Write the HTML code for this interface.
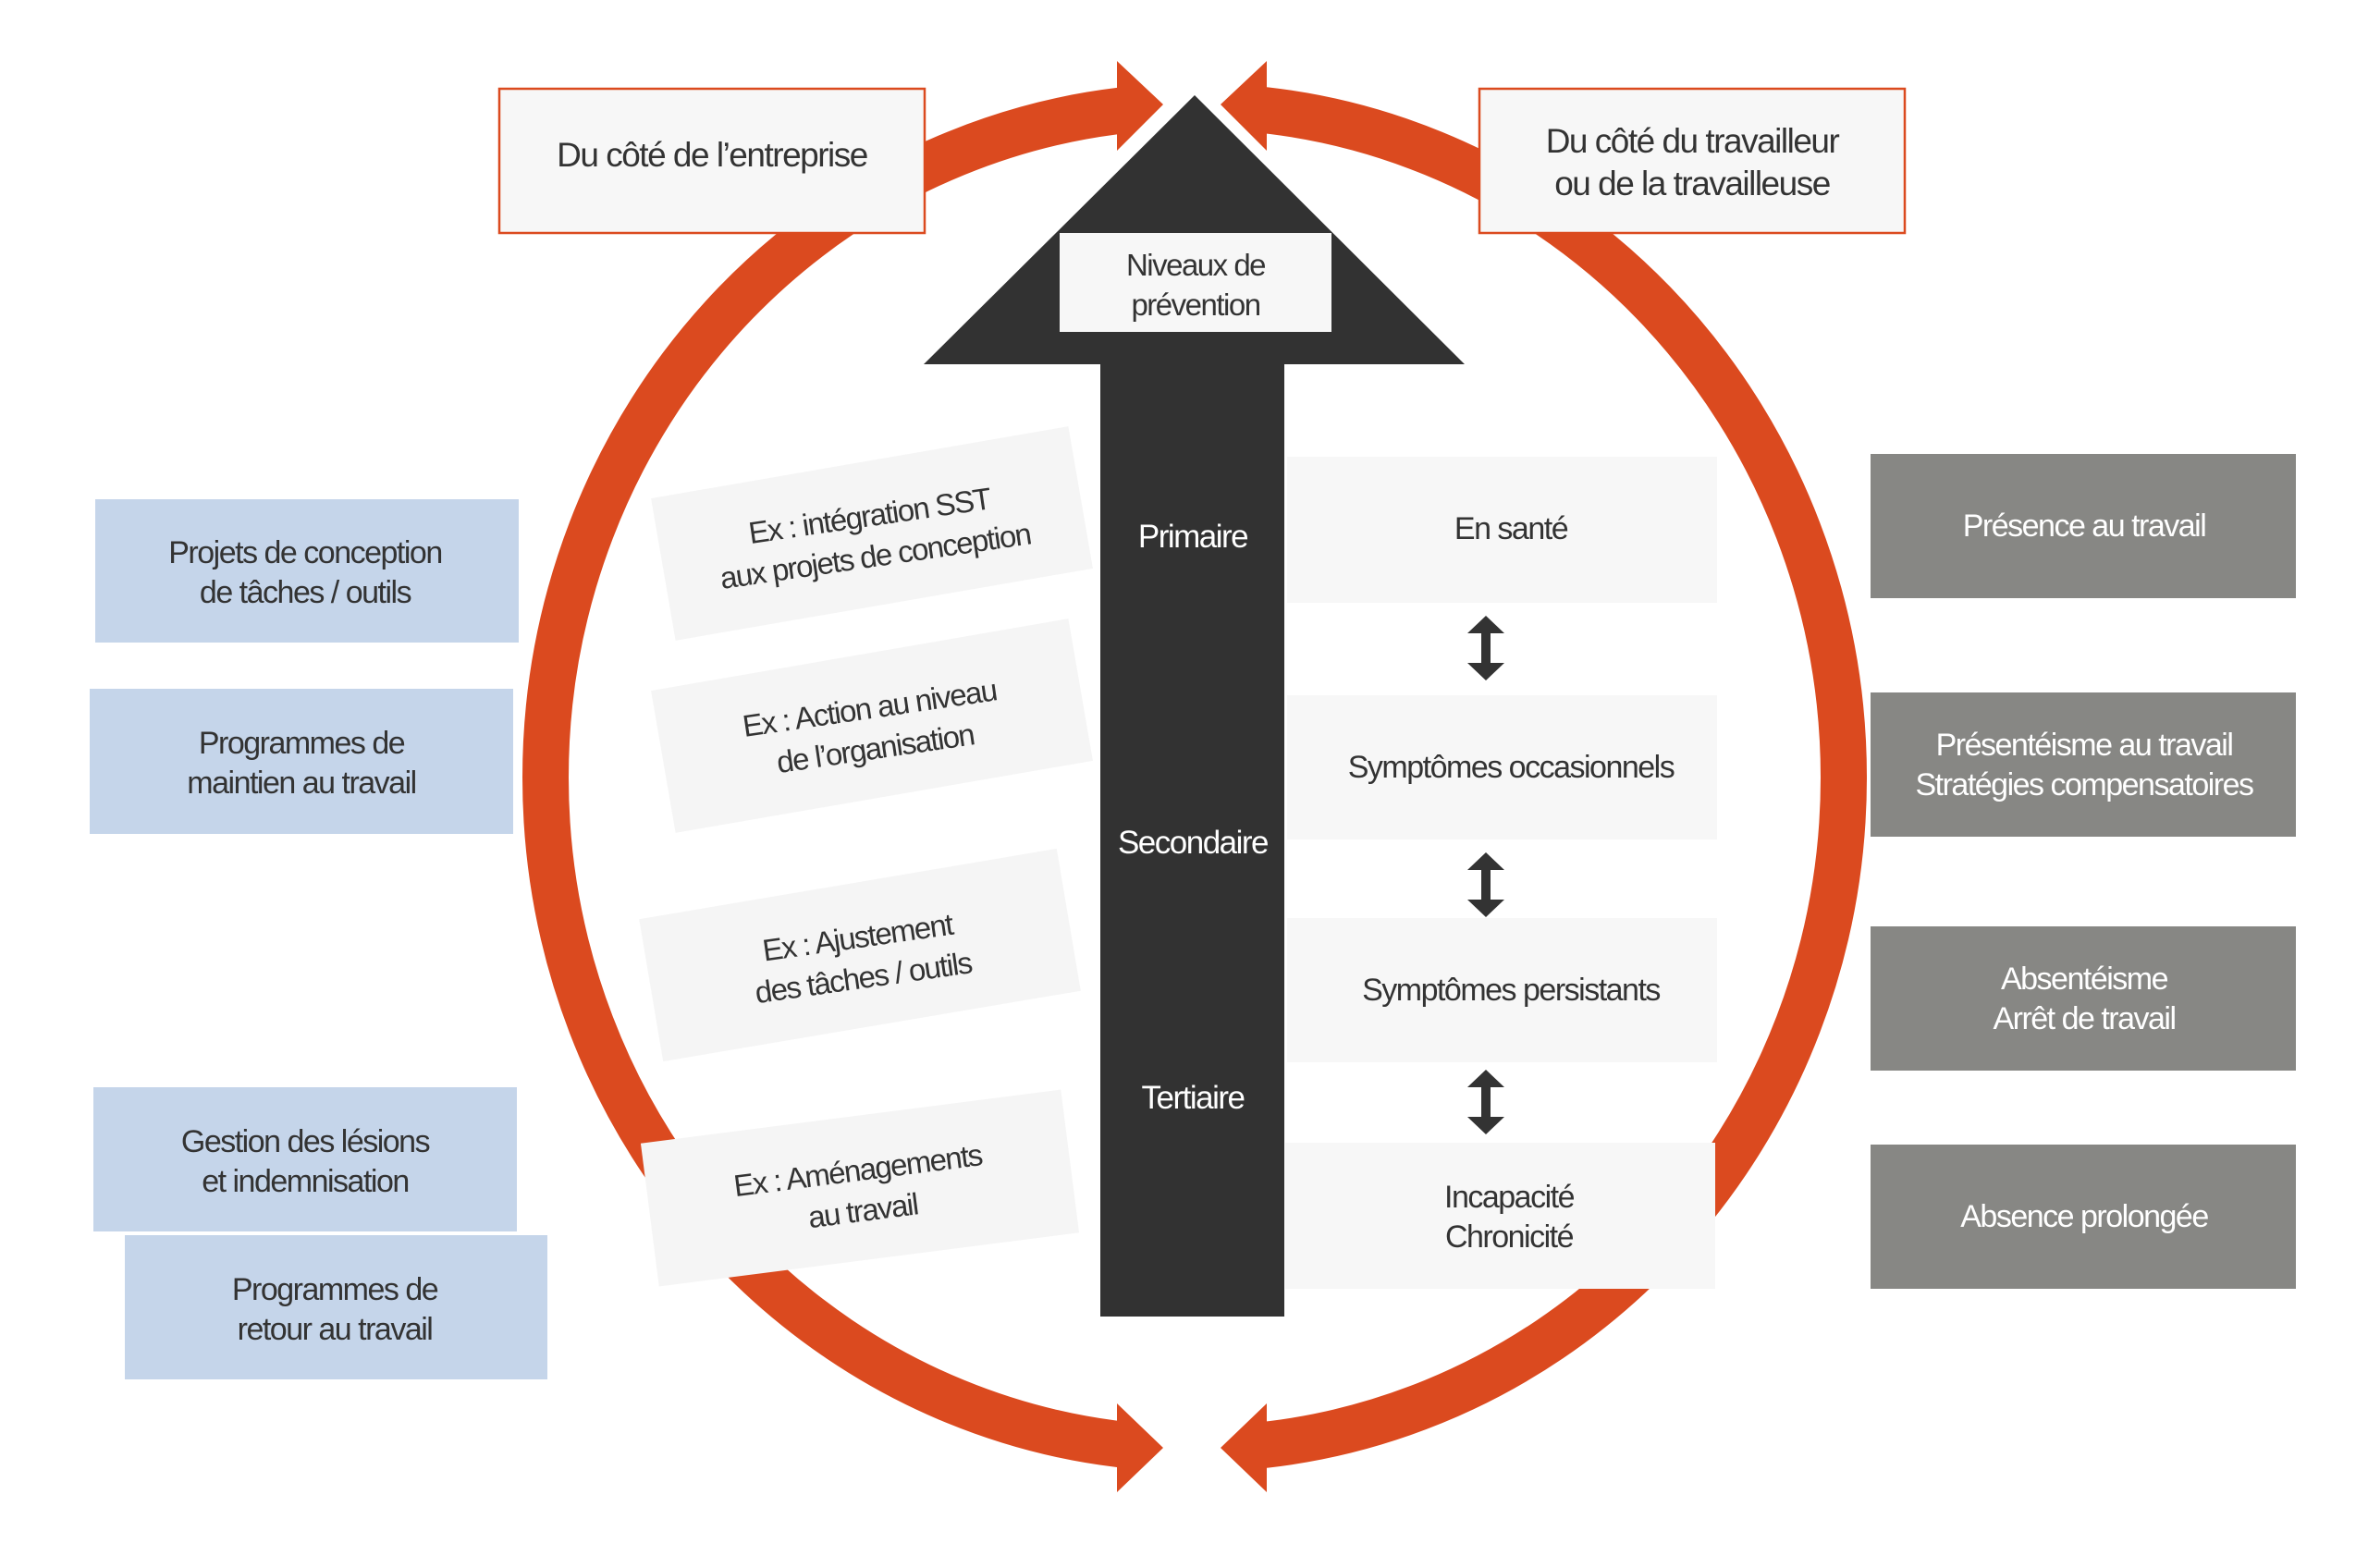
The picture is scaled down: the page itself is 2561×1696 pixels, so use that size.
<!DOCTYPE html>
<html><head><meta charset="utf-8"><style>
html,body{margin:0;padding:0;background:#fff;}
svg{display:block;}
text{font-family:"Liberation Sans",sans-serif;letter-spacing:-1.5px;}
</style></head><body>
<svg width="2561" height="1696" viewBox="0 0 2561 1696" xmlns="http://www.w3.org/2000/svg">
<!-- ring -->
<ellipse cx="1292" cy="841" rx="702" ry="726" fill="none" stroke="#db4a1f" stroke-width="50"/>
<rect x="1209" y="40" width="160" height="140" fill="#fff"/>
<rect x="1209" y="1500" width="160" height="140" fill="#fff"/>
<!-- arrowheads -->
<polygon points="1208,66 1258,113 1208,163" fill="#db4a1f"/>
<polygon points="1370,66 1320,113 1370,163" fill="#db4a1f"/>
<polygon points="1208,1518 1258,1566 1208,1614" fill="#db4a1f"/>
<polygon points="1370,1518 1320,1566 1370,1614" fill="#db4a1f"/>
<!-- black arrow -->
<polygon points="1292,103 1584,394 1389,394 1389,1424 1190,1424 1190,394 999,394" fill="#323232"/>
<rect x="1146" y="252" width="294" height="107" fill="#f7f7f7"/>
<text x="1293" y="298" font-size="33" fill="#333" text-anchor="middle">Niveaux de</text>
<text x="1293" y="341" font-size="33" fill="#333" text-anchor="middle">prévention</text>
<g font-size="35" fill="#fff" text-anchor="middle">
<text x="1290" y="592">Primaire</text>
<text x="1290" y="923">Secondaire</text>
<text x="1290" y="1199">Tertiaire</text>
</g>
<!-- top boxes -->
<rect x="540" y="96" width="460" height="156" fill="#f7f7f7" stroke="#db4a1f" stroke-width="2.5"/>
<text x="770" y="180" font-size="37" fill="#333" text-anchor="middle">Du côté de l’entreprise</text>
<rect x="1600" y="96" width="460" height="156" fill="#f7f7f7" stroke="#db4a1f" stroke-width="2.5"/>
<text x="1830" y="165" font-size="37" fill="#333" text-anchor="middle">Du côté du travailleur</text>
<text x="1830" y="211" font-size="37" fill="#333" text-anchor="middle">ou de la travailleuse</text>
<!-- rotated boxes -->
<g font-size="33" fill="#333" text-anchor="middle">
<g transform="translate(943,577) rotate(-9.8)">
<rect x="-229" y="-78" width="458" height="156" fill="#f5f5f5"/>
<text x="0" y="-8" transform="rotate(1.5)">Ex : intégration SST</text>
<text x="0" y="36" transform="rotate(1.5)">aux projets de conception</text>
</g>
<g transform="translate(943,785) rotate(-9.8)">
<rect x="-229" y="-78" width="458" height="156" fill="#f5f5f5"/>
<text x="0" y="-8" transform="rotate(1.5)">Ex : Action au niveau</text>
<text x="0" y="36" transform="rotate(1.5)">de l’organisation</text>
</g>
<g transform="translate(930,1033) rotate(-9.6)">
<rect x="-229" y="-78" width="458" height="156" fill="#f5f5f5"/>
<text x="0" y="-8" transform="rotate(1.5)">Ex : Ajustement</text>
<text x="0" y="36" transform="rotate(1.5)">des tâches / outils</text>
</g>
<g transform="translate(930,1285) rotate(-7.3)">
<rect x="-229" y="-78" width="458" height="156" fill="#f5f5f5"/>
<text x="0" y="-8">Ex : Aménagements</text>
<text x="0" y="36">au travail</text>
</g>
</g>
<!-- right state boxes -->
<g fill="#f7f7f7">
<rect x="1392" y="494" width="465" height="158"/>
<rect x="1392" y="752" width="465" height="156"/>
<rect x="1392" y="993" width="465" height="156"/>
<rect x="1390" y="1236" width="465" height="158"/>
</g>
<g font-size="34" fill="#333" text-anchor="middle">
<text x="1634" y="583">En santé</text>
<text x="1634" y="841">Symptômes occasionnels</text>
<text x="1634" y="1082">Symptômes persistants</text>
<text x="1632" y="1306">Incapacité</text>
<text x="1632" y="1349">Chronicité</text>
</g>
<!-- double arrows -->
<g fill="#333">
<polygon points="1607,666 1627,685 1612,685 1612,717 1627,717 1607,736 1587,717 1602,717 1602,685 1587,685"/>
<polygon points="1607,922 1627,941 1612,941 1612,973 1627,973 1607,992 1587,973 1602,973 1602,941 1587,941"/>
<polygon points="1607,1157 1627,1176 1612,1176 1612,1208 1627,1208 1607,1227 1587,1208 1602,1208 1602,1176 1587,1176"/>
</g>
<!-- gray boxes -->
<g fill="#878784">
<rect x="2023" y="491" width="460" height="156"/>
<rect x="2023" y="749" width="460" height="156"/>
<rect x="2023" y="1002" width="460" height="156"/>
<rect x="2023" y="1238" width="460" height="156"/>
</g>
<g font-size="34" fill="#fff" text-anchor="middle">
<text x="2254" y="580">Présence au travail</text>
<text x="2254" y="817">Présentéisme au travail</text>
<text x="2254" y="860">Stratégies compensatoires</text>
<text x="2254" y="1070">Absentéisme</text>
<text x="2254" y="1113">Arrêt de travail</text>
<text x="2254" y="1327">Absence prolongée</text>
</g>
<!-- blue boxes -->
<g fill="#c5d5ea">
<rect x="103" y="540" width="458" height="155"/>
<rect x="97" y="745" width="458" height="157"/>
<rect x="101" y="1176" width="458" height="156"/>
<rect x="135" y="1336" width="457" height="156"/>
</g>
<g font-size="34" fill="#333" text-anchor="middle">
<text x="330" y="609">Projets de conception</text>
<text x="330" y="652">de tâches / outils</text>
<text x="326" y="815">Programmes de</text>
<text x="326" y="858">maintien au travail</text>
<text x="330" y="1246">Gestion des lésions</text>
<text x="330" y="1289">et indemnisation</text>
<text x="362" y="1406">Programmes de</text>
<text x="362" y="1449">retour au travail</text>
</g>
</svg>
</body></html>
